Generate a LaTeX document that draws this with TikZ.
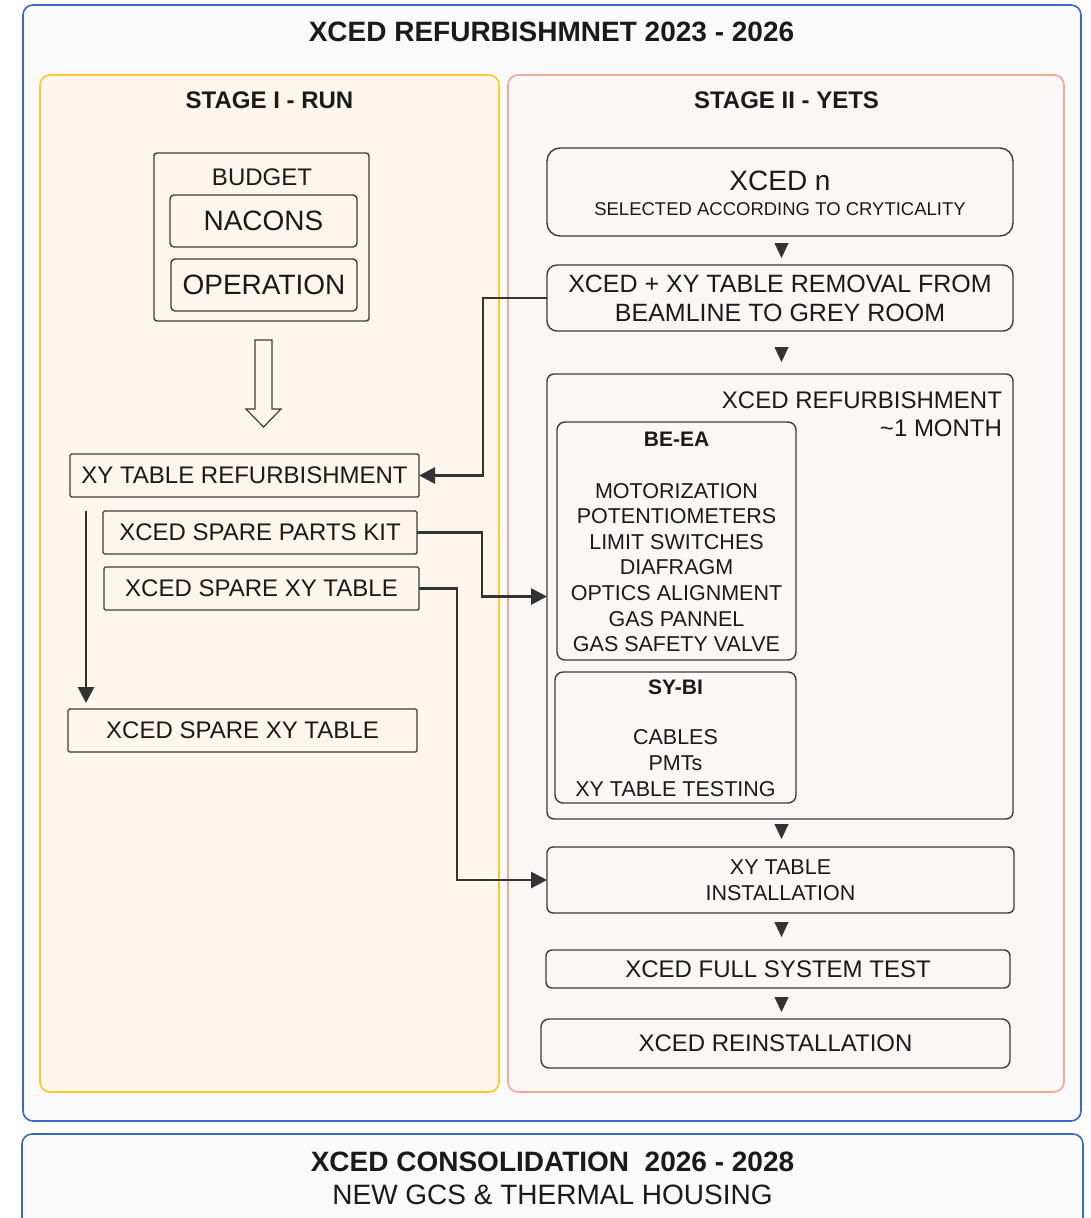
\documentclass[tikz,border=0pt]{standalone}
\usepackage{fontspec}
\setmainfont{Liberation Sans}
\usetikzlibrary{arrows.meta}
\definecolor{bluebd}{RGB}{59,104,192}
\definecolor{outerfill}{RGB}{250,250,250}
\definecolor{creamfill}{RGB}{253,246,236}
\definecolor{yellowbd}{RGB}{255,200,40}
\definecolor{pinkfill}{RGB}{250,247,246}
\definecolor{pinkbd}{RGB}{240,168,152}
\definecolor{boxgray}{RGB}{60,60,60}
\definecolor{arrgray}{RGB}{51,51,51}
\definecolor{txt}{RGB}{26,26,26}
\begin{document}
\begin{tikzpicture}[x=1pt,y=-1pt,
  every node/.style={text=txt, inner sep=0pt, outer sep=0pt},
  frame/.style={rectangle, rounded corners=10pt, line width=1.6pt},
  box/.style={rectangle, draw=boxgray, line width=1.4pt},
  fTitle/.style={font=\fontsize{28pt}{33pt}\selectfont\bfseries},
  fStage/.style={font=\fontsize{24pt}{29pt}\selectfont\bfseries},
  fBody/.style={font=\fontsize{24pt}{29pt}\selectfont},
  fBig/.style={font=\fontsize{28pt}{33pt}\selectfont},
  fSmall/.style={font=\fontsize{18.5pt}{22pt}\selectfont},
  fRem/.style={font=\fontsize{25pt}{29pt}\selectfont, align=center},
  fList/.style={font=\fontsize{21.5pt}{25.6pt}\selectfont, align=center},
  fHead/.style={font=\fontsize{21pt}{25pt}\selectfont\bfseries},
  conn/.style={draw=arrgray, line width=2.8pt, -{Triangle[length=16pt,width=16pt]}},
  tri/.style={draw=arrgray, line width=0.8pt, -{Triangle[length=15pt,width=14pt]}}
]
\path[use as bounding box] (0,0) rectangle (1091,1218);
\clip (0,0) rectangle (1091,1218);
\fill[white] (0,0) rectangle (1091,1218);

% containers
\node[frame, draw=bluebd, fill=outerfill, minimum width=1058pt, minimum height=1116pt] (outer) at (552,563) {};
\node[frame, draw=bluebd, fill=outerfill, minimum width=1061pt, minimum height=140pt] (consol) at (552.5,1204) {};
\node[frame, draw=yellowbd, fill=creamfill, minimum width=459pt, minimum height=1017pt] (stageI) at (269.5,583.5) {};
\node[frame, draw=pinkbd, fill=pinkfill, minimum width=556pt, minimum height=1017pt] (stageII) at (786,583.5) {};

% titles
\node[fTitle] (title) at (551.5,31.5) {XCED REFURBISHMNET 2023 - 2026};
\node[fStage] (stIt) at (269.5,100.5) {STAGE I - RUN};
\node[fStage] (stIIt) at (786.5,100.5) {STAGE II - YETS};
\node[fTitle] (conT) at (552.5,1162) {XCED CONSOLIDATION\ \ 2026 - 2028};
\node[fBig] (conS) at (552.5,1195) {NEW GCS \& THERMAL HOUSING};

% stage I
\node[box, rounded corners=3pt, minimum width=215pt, minimum height=168pt] (budget) at (261.5,237) {};
\node[fBody] (budgetT) at (262,177) {BUDGET};
\node[box, rounded corners=4pt, minimum width=187pt, minimum height=52pt, fBig] (nacons) at (263.5,221) {NACONS};
\node[box, rounded corners=4pt, minimum width=186pt, minimum height=52pt, fBig] (oper) at (264,285) {OPERATION};
\draw[boxgray, line width=1.2pt, fill=creamfill] (255,340) -- (272,340) -- (272,409) -- (281,409) -- (263.5,427) -- (246,409) -- (255,409) -- cycle;

\node[box, rounded corners=1.5pt, minimum width=349pt, minimum height=43pt, fBody] (xyref) at (244.5,475.5) {XY TABLE REFURBISHMENT};
\node[box, rounded corners=1.5pt, minimum width=314pt, minimum height=43pt, fBody] (kit) at (260,532.5) {XCED SPARE PARTS KIT};
\node[box, rounded corners=1.5pt, minimum width=315pt, minimum height=43pt, fBody] (sparexy) at (261.5,588.5) {XCED SPARE XY TABLE};
\node[box, rounded corners=1.5pt, minimum width=349pt, minimum height=43pt, fBody] (sparexyb) at (242.5,730.5) {XCED SPARE XY TABLE};

% stage II
\node[box, rounded corners=13pt, minimum width=466pt, minimum height=88pt] (xcedn) at (780,192) {};
\node[fBig] (xcednT) at (780,181) {XCED n};
\node[fSmall] (xcednS) at (780,209.5) {SELECTED ACCORDING TO CRYTICALITY};
\node[box, rounded corners=10pt, minimum width=466pt, minimum height=66pt, fRem] (removal) at (780,298) {XCED + XY TABLE REMOVAL FROM\\BEAMLINE TO GREY ROOM};
\node[box, rounded corners=7pt, minimum width=466pt, minimum height=445pt] (xrefurb) at (780,596.5) {};
\node[fBody, anchor=east] (xrefT) at (1002,400) {XCED REFURBISHMENT};
\node[fBody, anchor=east] (xrefM) at (1002,428) {\textasciitilde 1 MONTH};
\node[box, rounded corners=8pt, minimum width=239pt, minimum height=238pt] (beea) at (676.5,541) {};
\node[fHead] (beeaT) at (676.5,439) {BE-EA};
\node[fList] (beeaL) at (676.5,567.5) {MOTORIZATION\\POTENTIOMETERS\\LIMIT SWITCHES\\DIAFRAGM\\OPTICS ALIGNMENT\\GAS PANNEL\\GAS SAFETY VALVE};
\node[box, rounded corners=8pt, minimum width=241pt, minimum height=131pt] (sybi) at (675.5,737.5) {};
\node[fHead] (sybiT) at (675.5,687) {SY-BI};
\node[fList] (sybiL) at (675.5,763) {CABLES\\PMTs\\XY TABLE TESTING};
\node[box, rounded corners=6pt, minimum width=467pt, minimum height=66pt, fList] (install) at (780.5,880) {XY TABLE\\INSTALLATION};
\node[box, rounded corners=6pt, minimum width=464pt, minimum height=38pt, fBody] (fst) at (778,969) {XCED FULL SYSTEM TEST};
\node[box, rounded corners=8pt, minimum width=469pt, minimum height=49pt, fBody] (reinst) at (775.5,1043.5) {XCED REINSTALLATION};

% connectors
\coordinate (tx) at (781.5,0);
\draw[tri, shorten <=7pt, shorten >=7pt] (xcedn.south -| tx) -- (removal.north -| tx);
\draw[tri, shorten <=16pt, shorten >=12pt] (removal.south -| tx) -- (xrefurb.north -| tx);
\draw[tri, shorten <=5pt, shorten >=8pt] (xrefurb.south -| tx) -- (install.north -| tx);
\draw[tri, shorten <=9pt, shorten >=13pt] (install.south -| tx) -- (fst.north -| tx);
\draw[tri, shorten <=9pt, shorten >=7pt] (fst.south -| tx) -- (reinst.north -| tx);

\draw[conn] (removal.west) -- ++(-64,0) |- (xyref.east);
\draw[conn] (kit.east) -- ++(65,0) |- (xrefurb.west);
\draw[conn] (sparexy.east) -- ++(38,0) |- (install.west);
\draw[conn, shorten <=14pt, shorten >=6pt] ([xshift=16pt]xyref.south west) -- ([xshift=18pt]sparexyb.north west);
\end{tikzpicture}
\end{document}
